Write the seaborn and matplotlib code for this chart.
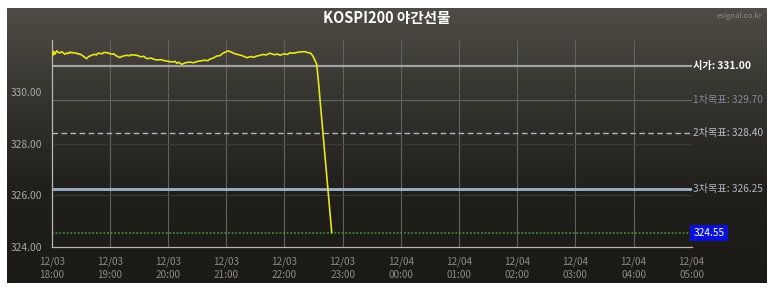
import numpy as np
import pandas as pd
import matplotlib
matplotlib.use("Agg")
import matplotlib.pyplot as plt
import seaborn as sns
from matplotlib.colors import LinearSegmentedColormap

# ---- data (minutes after 12/03 18:00, price) ----
minutes = [0, 1, 2, 3.4, 4.3, 5.2, 7, 8.6, 10, 11, 13.7, 16, 17.5, 18.9, 20.5, 22, 25.8, 27.5, 29,
           32.3, 34, 36.1, 38, 41.3, 44, 46, 47.8, 52, 54, 56.7, 59, 61.9, 64, 66, 70.4, 72, 74,
           77.3, 80, 82, 87.6, 90, 92, 95, 98, 103, 105, 108.3, 113, 116, 118.6, 122, 125, 127,
           129, 131, 134, 138, 142.6, 146, 148, 150, 152.9, 158, 161, 163.2, 167, 170.1, 174,
           176, 179, 182.1, 186, 188, 190.8, 193, 196, 201.1, 206, 208, 211.4, 215, 218, 221,
           225.1, 228, 230, 233, 235.4, 240, 243, 245.8, 248, 251, 254, 257.8, 261, 264.7,
           267.5, 269.8, 273.3, 275, 288.8]
prices = [331.51, 331.40, 331.56, 331.45, 331.52, 331.58, 331.52, 331.50, 331.55, 331.53, 331.45,
          331.50, 331.48, 331.54, 331.50, 331.51, 331.49, 331.45, 331.46, 331.38, 331.33, 331.28,
          331.36, 331.41, 331.45, 331.42, 331.49, 331.47, 331.52, 331.51, 331.49, 331.45, 331.47,
          331.40, 331.32, 331.36, 331.38, 331.41, 331.39, 331.43, 331.41, 331.38, 331.35, 331.37,
          331.28, 331.30, 331.26, 331.23, 331.24, 331.20, 331.19, 331.16, 331.15, 331.18, 331.10,
          331.14, 331.06, 331.12, 331.15, 331.12, 331.14, 331.17, 331.19, 331.22, 331.20, 331.26,
          331.31, 331.38, 331.40, 331.48, 331.53, 331.58, 331.52, 331.48, 331.45, 331.43, 331.40,
          331.32, 331.36, 331.33, 331.38, 331.41, 331.44, 331.42, 331.49, 331.45, 331.43, 331.46,
          331.41, 331.47, 331.44, 331.51, 331.49, 331.50, 331.53, 331.54, 331.55, 331.51, 331.48,
          331.35, 331.06, 330.42, 324.55]

x_tick_labels = ["12/03\n18:00", "12/03\n19:00", "12/03\n20:00", "12/03\n21:00", "12/03\n22:00",
                 "12/03\n23:00", "12/04\n00:00", "12/04\n01:00", "12/04\n02:00", "12/04\n03:00",
                 "12/04\n04:00", "12/04\n05:00"]
y_ticks = [324, 326, 328, 330, 332]
y_tick_labels = ["324.00", "326.00", "328.00", "330.00", ""]
level_values = [331.00, 329.70, 328.40, 326.25, 324.55]
level_labels = ["시가: 331.00", "1차목표: 329.70", "2차목표: 328.40", "3차목표: 326.25", "324.55"]
title = "KOSPI200 야간선물"
source = "esignal.co.kr"

sns.set_style("white")
plt.rcParams['font.family'] = ['Noto Sans CJK KR', 'DejaVu Sans']

W, H = 773, 288
fig = plt.figure(figsize=(W / 100, H / 100), dpi=100)
fig.patch.set_facecolor('white')

# dark gradient panel
bg = fig.add_axes([7 / W, 1 - 283 / H, 760 / W, 275 / H])
cmap = LinearSegmentedColormap.from_list("panel", ["#1b1a17", "#201f1c", "#35332e", "#4f4c45"])
grad = np.linspace(0, 1, 256).reshape(-1, 1)
bg.imshow(grad, aspect='auto', cmap=cmap, origin='lower', extent=[0, 1, 0, 1])
bg.set_axis_off()

ax = fig.add_axes([51.7 / W, 1 - 247 / H, 640 / W, 207 / H])
ax.set_facecolor('none')

df = pd.DataFrame({"hours": np.array(minutes) / 60.0, "price": prices})

# grid
for h in range(1, 12):
    ax.axvline(h, color="#636260", lw=0.8, zorder=1)
for v in [326, 328, 330]:
    ax.axhline(v, color="#3c3b38", lw=0.8, zorder=1)

# level lines
styles = [dict(color="#a3a3a0", lw=1.6, ls="-"),
          dict(color="#5e6266", lw=0.9, ls="-"),
          dict(color="#a9b9cb", lw=1.0, ls=(0, (4, 2.5))),
          dict(color="#9cb1cc", lw=2.0, ls="-"),
          dict(color="#3f9a38", lw=1.1, ls=(0, (1.2, 1.2)))]
for v, st in zip(level_values, styles):
    ax.axhline(v, zorder=2, **st)

sns.lineplot(data=df, x="hours", y="price", ax=ax, color="#e6e61e", lw=1.2, zorder=4)

ax.set_xlim(0, 11)
ax.set_ylim(324, 332)
ax.set_xticks(range(12))
ax.set_xticklabels(x_tick_labels, color="#8a8a86", fontsize=7.2, linespacing=1.4)
ax.set_yticks(y_ticks)
ax.set_yticklabels(y_tick_labels, color="#a8a8a4", fontsize=7.4)
ax.tick_params(axis='both', length=5, width=0.8, color="#b0b0ac", pad=2)
ax.set_xlabel("")
ax.set_ylabel("")
for s in ["top", "right"]:
    ax.spines[s].set_visible(False)
for s in ["left", "bottom"]:
    ax.spines[s].set_color("#b8b8b4")
    ax.spines[s].set_linewidth(0.9)

# right labels
label_colors = ["#ffffff", "#7d8c9c", "#b7bec6", "#aeb6bf", "#ffffff"]
for i, (v, lab, c) in enumerate(zip(level_values, level_labels, label_colors)):
    if i == 4:
        ax.text(11.03, v, lab, color="white", fontsize=7.3, va="center", ha="left",
                clip_on=False, bbox=dict(boxstyle="square,pad=0.3", fc="#0a10d8", ec="none"))
    else:
        ax.text(11.03, v, lab, color=c, fontsize=7.3, va="center", ha="left", clip_on=False,
                fontweight="bold" if i == 0 else "normal")

fig.text(387 / W, 1 - 18 / H, title, color="white", fontsize=10.5, fontweight="bold",
         ha="center", va="center")
fig.text(762 / W, 1 - 16 / H, source, color="#8e8d88", fontsize=5.5, ha="right", va="center")

fig.savefig("out.png", dpi=100, facecolor="white")
